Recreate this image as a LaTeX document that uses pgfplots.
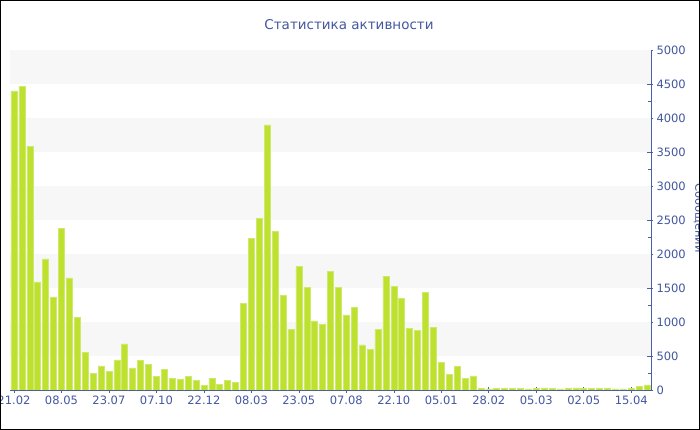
\documentclass[border=0pt]{standalone}
\usepackage{pgfplots}
\pgfplotsset{compat=1.18}
\usepackage{fontspec}
\setmainfont{DejaVu Sans}
\definecolor{txtblue}{RGB}{68,88,160}
\definecolor{axblue}{RGB}{77,95,163}
\definecolor{band}{RGB}{247,247,247}
\definecolor{barc}{RGB}{190,225,48}
\definecolor{barl}{RGB}{205,234,110}
\begin{document}
\begin{tikzpicture}
\useasboundingbox (0,0) rectangle (700pt,430pt);
\clip (0,0) rectangle (700pt,430pt);
\fill[white] (0,0) rectangle (700pt,430pt);
\begin{axis}[
  at={(10pt,40pt)}, anchor=south west,
  scale only axis, width=641pt, height=340pt,
  xmin=-0.5, xmax=80.5, ymin=0, ymax=5000,
  axis x line*=bottom, axis y line*=right,
  axis line style={draw=axblue, line width=0.8pt, -},
  xtick={0,6,...,78},
  xticklabels={21.02,08.05,23.07,07.10,22.12,08.03,23.05,07.08,22.10,05.01,28.02,05.03,02.05,15.04},
  ytick={0,500,...,5000},
  minor y tick num=1,
  tick style={draw=axblue, line width=0.6pt},
  tick align=center, major tick length=6pt, minor tick length=4pt,
  y tick style={xshift=-1pt},
  ticklabel style={font=\fontsize{11.5}{13}\selectfont, text=txtblue},
  /pgf/number format/assume math mode=true,
  /pgf/number format/1000 sep={},
  yticklabel style={xshift=-1pt},
  xticklabel style={yshift=1pt},
]
\fill[band] (axis cs:-0.5,500) rectangle (axis cs:80.5,1000);
\fill[band] (axis cs:-0.5,1500) rectangle (axis cs:80.5,2000);
\fill[band] (axis cs:-0.5,2500) rectangle (axis cs:80.5,3000);
\fill[band] (axis cs:-0.5,3500) rectangle (axis cs:80.5,4000);
\fill[band] (axis cs:-0.5,4500) rectangle (axis cs:80.5,5000);
\addplot[ybar, bar width=6pt, fill=barc, draw=barl, line width=0.5pt] table[x=i, y=v] {
i v
0 4400
1 4470
2 3580
3 1590
4 1930
5 1370
6 2380
7 1650
8 1065
9 555
10 245
11 353
12 275
13 443
14 680
15 324
16 436
17 377
18 200
19 304
20 171
21 160
22 204
23 147
24 67
25 176
26 78
27 147
28 110
29 1275
30 2230
31 2525
32 3897
33 2333
34 1392
35 897
36 1814
37 1505
38 1015
39 966
40 1740
41 1507
42 1103
43 1216
44 662
45 598
46 892
47 1667
48 1525
49 1348
50 902
51 877
52 1436
53 922
54 407
55 230
56 343
57 173
58 208
59 20
60 15
61 25
62 25
63 25
64 20
65 18
66 20
67 30
68 20
69 15
70 20
71 30
72 20
73 22
74 20
75 22
76 18
77 15
78 20
79 54
80 74
};
\end{axis}
\node[text=txtblue, font=\fontsize{13.5}{16}\selectfont] at (349pt,405pt) {Статистика активности};
\node[text=txtblue, font=\fontsize{11.5}{13}\selectfont, rotate=-90] at (699pt,212pt) {Сообщений};
\draw[black, line width=1pt] (0.5pt,0.5pt) rectangle (699.5pt,429.5pt);
\end{tikzpicture}
\end{document}
